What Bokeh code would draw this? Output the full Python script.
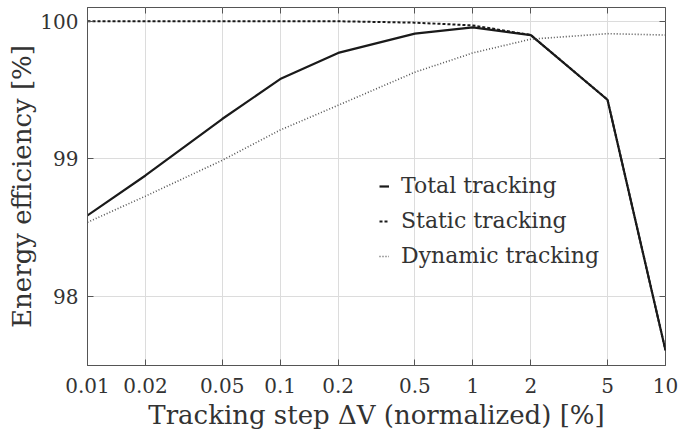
from bokeh.plotting import figure
from bokeh.models import (FixedTicker, CustomJSTickFormatter, LogAxis, LinearAxis,
                          Legend, LegendItem, Range1d)
from bokeh.embed import file_html
from bokeh.resources import INLINE

# ---- data ----
steps = [0.01, 0.02, 0.05, 0.1, 0.2, 0.5, 1, 2, 5, 10]
total_tracking = [98.59, 98.88, 99.29, 99.58, 99.77, 99.91, 99.955, 99.90, 99.43, 97.61]
static_tracking = [100.0, 100.0, 100.0, 100.0, 100.0, 99.99, 99.97, 99.90, 99.43, 97.61]
dynamic_tracking = [98.54, 98.73, 98.99, 99.21, 99.39, 99.63, 99.77, 99.87, 99.91, 99.90]

x_ticks = [0.01, 0.02, 0.05, 0.1, 0.2, 0.5, 1, 2, 5, 10]
x_tick_labels = ["0.01", "0.02", "0.05", "0.1", "0.2", "0.5", "1", "2", "5", "10"]
y_ticks = [98, 99, 100]
y_tick_labels = ["98", "99", "100"]

FONT = "DejaVu Serif"
TXT = "#333333"
AX = "#555555"

p = figure(width=678, height=435, x_axis_type="log",
           x_range=Range1d(0.01, 10), y_range=Range1d(97.5, 100.1),
           output_backend="svg", toolbar_location=None,
           min_border_left=87, min_border_right=13, min_border_top=7,
           min_border_bottom=70)

p.outline_line_color = AX
p.outline_line_width = 1

label_js = """
for (let i = 0; i < tvals.length; i++) {
  if (Math.abs(tvals[i] - tick) <= 1e-9 * Math.max(1, Math.abs(tick))) return tlabels[i];
}
return '';
"""
xfmt = CustomJSTickFormatter(args=dict(tvals=x_ticks, tlabels=x_tick_labels), code=label_js)
yfmt = CustomJSTickFormatter(args=dict(tvals=y_ticks, tlabels=y_tick_labels), code=label_js)
blank = CustomJSTickFormatter(code="return '';")

xa = p.xaxis[0]
xa.ticker = FixedTicker(ticks=x_ticks)
xa.formatter = xfmt
xa.axis_label = "Tracking step \u0394V (normalized) [%]"
ya = p.yaxis[0]
ya.ticker = FixedTicker(ticks=y_ticks)
ya.formatter = yfmt
ya.axis_label = "Energy efficiency [%]"

for ax in (xa, ya):
    ax.axis_line_color = AX
    ax.major_tick_line_color = AX
    ax.major_tick_in = 6
    ax.major_tick_out = 0
    ax.minor_tick_line_color = None
    ax.major_label_text_font = FONT
    ax.major_label_text_font_size = "20px"
    ax.major_label_text_color = TXT
    ax.axis_label_text_font = FONT
    ax.axis_label_text_font_size = "26px"
    ax.axis_label_text_font_style = "normal"
    ax.axis_label_text_color = TXT
xa.major_label_standoff = 12
xa.axis_label_standoff = 4
ya.major_label_standoff = 9
ya.axis_label_standoff = 0

top = LogAxis(ticker=FixedTicker(ticks=x_ticks), formatter=blank,
              major_tick_in=6, major_tick_out=0, minor_tick_line_color=None,
              axis_line_color=None, major_tick_line_color=AX,
              major_label_standoff=0, major_label_text_font_size="0px")
right = LinearAxis(ticker=FixedTicker(ticks=y_ticks), formatter=blank,
                   major_tick_in=6, major_tick_out=0, minor_tick_line_color=None,
                   axis_line_color=None, major_tick_line_color=AX,
                   major_label_standoff=0, major_label_text_font_size="0px")
p.add_layout(top, "above")
p.add_layout(right, "right")

p.xgrid.ticker = FixedTicker(ticks=x_ticks)
p.ygrid.ticker = FixedTicker(ticks=y_ticks)
for g in (p.xgrid[0], p.ygrid[0]):
    g.grid_line_color = "#dcdcdc"
    g.grid_line_width = 1

r_total = p.line(steps, total_tracking, line_color="#1a1a1a", line_width=2.2)
r_static = p.line(steps, static_tracking, line_color="#1a1a1a", line_width=2,
                  line_dash="3 2")
r_dyn = p.line(steps, dynamic_tracking, line_color="#555555", line_width=1.6,
               line_dash="1 2")

legend = Legend(items=[LegendItem(label="Total tracking", renderers=[r_total]),
                       LegendItem(label="Static tracking", renderers=[r_static]),
                       LegendItem(label="Dynamic tracking", renderers=[r_dyn])],
                location=(292, 97), glyph_width=10, glyph_height=20,
                label_standoff=12, spacing=10, padding=0, margin=0,
                border_line_color=None, background_fill_alpha=0,
                label_text_font=FONT, label_text_font_size="22px",
                label_text_color=TXT)
p.add_layout(legend, "center")

open("out.html", "w").write(file_html(p, INLINE))
